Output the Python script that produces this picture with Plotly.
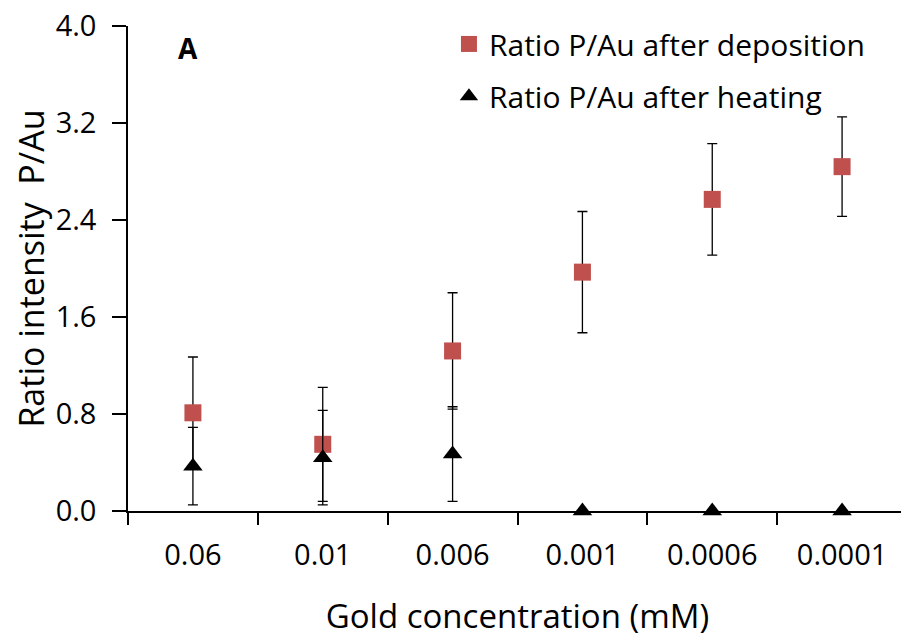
import plotly.graph_objects as go

categories = ["0.06", "0.01", "0.006", "0.001", "0.0006", "0.0001"]
dep_values = [0.81, 0.55, 1.32, 1.97, 2.57, 2.84]
dep_err = [0.46, 0.47, 0.48, 0.50, 0.46, 0.41]
heat_values = [0.37, 0.44, 0.47, 0.0, 0.0, 0.0]
heat_err = [0.32, 0.39, 0.39, 0.0, 0.0, 0.0]

FONT = "Open Sans"

fig = go.Figure()
fig.add_trace(go.Scatter(
    x=categories, y=dep_values, mode="markers", name="Ratio P/Au after deposition",
    marker=dict(symbol="square", size=17, color="#C0504D"),
    error_y=dict(type="data", array=dep_err, color="black", thickness=1.3, width=5),
    legend="legend", cliponaxis=False,
))
fig.add_trace(go.Scatter(
    x=categories, y=heat_values, mode="markers", name="Ratio P/Au after heating",
    marker=dict(symbol="triangle-up", size=17, color="black"),
    error_y=dict(type="data", array=heat_err, color="black", thickness=1.3, width=5),
    legend="legend2", cliponaxis=False,
))

fig.update_layout(
    width=909, height=641,
    margin=dict(l=120, r=10, t=14, b=138),
    plot_bgcolor="white", paper_bgcolor="white",
    font=dict(family=FONT, size=28, color="black"),
    showlegend=True,
    legend=dict(x=0.412, y=0.963, xanchor="left", yanchor="middle", bgcolor="rgba(0,0,0,0)",
                font=dict(family=FONT, size=30)),
    legend2=dict(x=0.412, y=0.855, xanchor="left", yanchor="middle", bgcolor="rgba(0,0,0,0)",
                 font=dict(family=FONT, size=30)),
    xaxis=dict(
        type="category", range=[-0.5, 5.5], automargin=False,
        showline=True, linecolor="black", linewidth=1.5,
        ticks="outside", tickson="boundaries", ticklen=12, tickcolor="black", tickwidth=1.5,
        showgrid=False, zeroline=False, ticklabeloverflow="allow",
        title=dict(text="Gold concentration (mM)", standoff=33, font=dict(size=33)),
        tickfont=dict(size=29), ticklabelstandoff=17,
    ),
    yaxis=dict(
        range=[0, 4.0], dtick=0.8, tick0=0, tickformat=".1f", automargin=False,
        showline=True, linecolor="black", linewidth=1.5,
        ticks="outside", ticklen=14, tickcolor="black", tickwidth=1.5,
        showgrid=False, zeroline=False, ticklabeloverflow="allow",
        title=dict(text="Ratio intensity  P/Au", standoff=12, font=dict(size=34)),
        tickfont=dict(size=29), ticklabelstandoff=10,
    ),
    annotations=[dict(text="<b>A</b>", x=0.0775, y=0.955, xref="paper", yref="paper",
                      showarrow=False, font=dict(size=28, family=FONT), xanchor="center", yanchor="middle")],
)

fig.write_html("out.html")
